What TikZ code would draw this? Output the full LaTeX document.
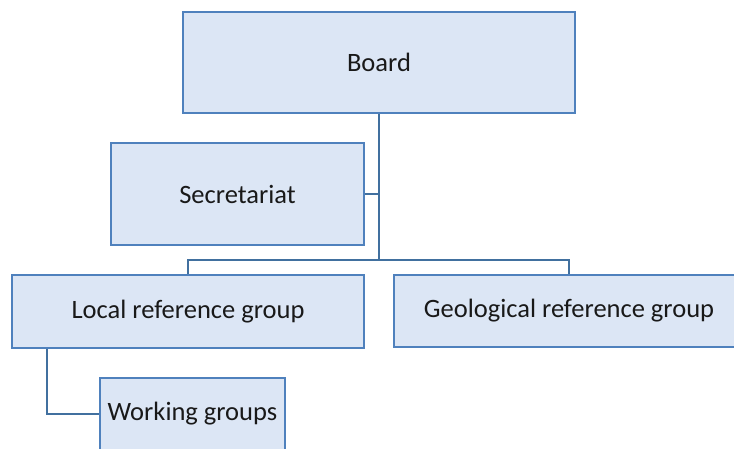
\documentclass[tikz,border=0pt]{standalone}
\usepackage{fontspec}
\setmainfont{Carlito}
\definecolor{boxline}{HTML}{4F81BD}
\definecolor{boxfill}{HTML}{DCE6F5}
\definecolor{conn}{HTML}{41709F}
\begin{document}
\begin{tikzpicture}[x=1pt,y=-1pt,
  orgbox/.style={draw=boxline,fill=boxfill,line width=2pt,rectangle,inner sep=0pt,text=black!90,font=\fontsize{26.5}{30}\selectfont},
  link/.style={draw=conn,line width=2.2pt}]
\useasboundingbox (0,0) rectangle (734,448);
\clip (0,0) rectangle (734,448);
\node[orgbox,minimum width=392pt,minimum height=101pt] (board) at (379,62) {Board};
\node[orgbox,minimum width=253pt,minimum height=102pt] (sec) at (237.5,194) {Secretariat};
\node[orgbox,minimum width=352pt,minimum height=73pt] (local) at (188,311.5) {Local reference group};
\node[orgbox,minimum width=350pt,minimum height=72pt] (geo) at (569,311) {Geological reference group};
\node[orgbox,minimum width=185pt,minimum height=72pt] (work) at (192.5,414) {Working groups};
\coordinate (bus) at (379,260);
\draw[link] (board.south) -- (bus);
\draw[link] (sec.east) -- (sec.east -| bus);
\draw[link] (local.north) |- (bus) -| (geo.north);
\draw[link] ([xshift=-141pt]local.south) |- (work.west);
\end{tikzpicture}
\end{document}
